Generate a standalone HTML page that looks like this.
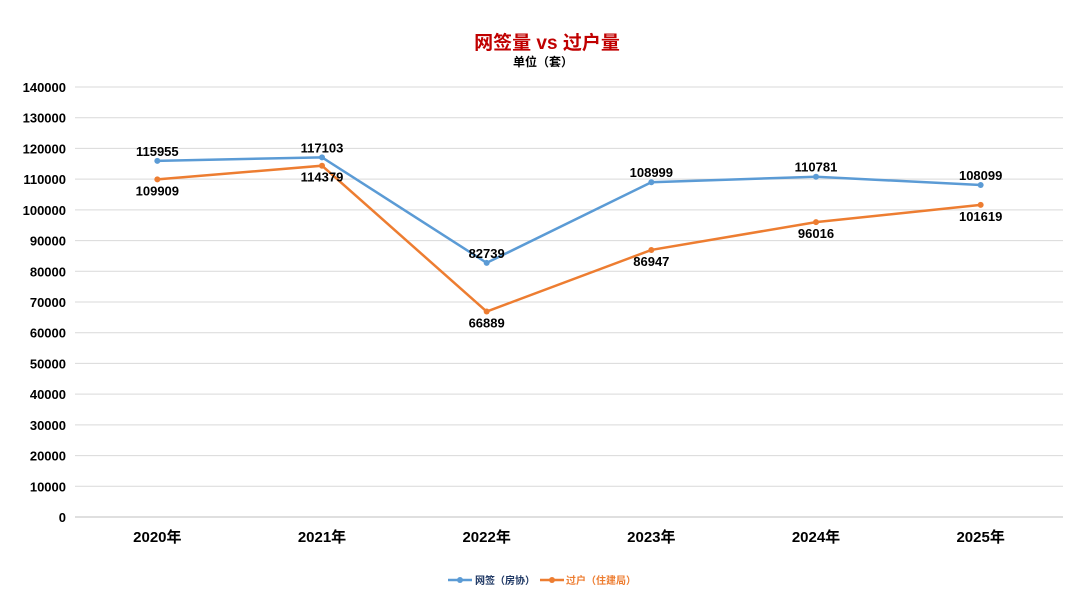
<!DOCTYPE html>
<html><head><meta charset="utf-8"><style>
body{margin:0;background:#fff;}
svg text{font-family:"Liberation Sans","Noto Sans CJK SC",sans-serif;}
</style></head><body>
<svg id="chart" width="1080" height="603">
<text x="547" y="49" text-anchor="middle" font-size="19" font-weight="bold" fill="#c00000">网签量 vs 过户量</text>
<text x="543" y="66" text-anchor="middle" font-size="12" font-weight="bold" fill="#000">单位（套）</text>
<g id="grid"></g><g id="series"></g>
<g>
<g>
<line x1="448" y1="580" x2="472" y2="580" stroke="#5b9bd5" stroke-width="2.5"/><circle cx="460" cy="580" r="3" fill="#5b9bd5"/>
<text x="475" y="584" font-size="10" font-weight="bold" fill="#1f3864">网签（房协）</text></g>
<g>
<line x1="540" y1="580" x2="564" y2="580" stroke="#ed7d31" stroke-width="2.5"/><circle cx="552" cy="580" r="3" fill="#ed7d31"/>
<text x="566" y="584" font-size="10" font-weight="bold" fill="#ed7d31">过户（住建局）</text></g>
</g>
</svg>
<script>
const categories=["2020年","2021年","2022年","2023年","2024年","2025年"];
const wangqian=[115955,117103,82739,108999,110781,108099];
const guohu=[109909,114379,66889,86947,96016,101619];
const yTicks=[0,10000,20000,30000,40000,50000,60000,70000,80000,90000,100000,110000,120000,130000,140000];
const NS="http://www.w3.org/2000/svg";
const L=75,R=1063,T=87,B=517,yMax=140000;
const x=i=>L+(R-L)/categories.length*(i+0.5);
const y=v=>B-(B-T)*v/yMax;
function mk(t,a,p){const e=document.createElementNS(NS,t);for(const k in a)e.setAttribute(k,a[k]);p.appendChild(e);return e;}
const g=document.getElementById('grid'),s=document.getElementById('series');
yTicks.forEach(v=>{
const ln=mk('line',{x1:L,x2:R,y1:y(v),y2:y(v),stroke:v===0?'#bfbfbf':'#d9d9d9','stroke-width':1},g);


const t=mk('text',{x:66,y:y(v)+5,'text-anchor':'end','font-size':13,'font-weight':'bold',fill:'#000'},g);t.textContent=v;


});
categories.forEach((c,i)=>{
const t=mk('text',{x:x(i),y:542,'text-anchor':'middle','font-size':15,'font-weight':'bold',fill:'#000'},g);t.textContent=c;


});
function series(d,col,name,dy){
const p=mk('polyline',{points:d.map((v,i)=>x(i)+','+y(v)).join(' '),fill:'none',stroke:col,'stroke-width':2.5},s);


d.forEach((v,i)=>{
const c=mk('circle',{cx:x(i),cy:y(v),r:3,fill:col},s);


const t=mk('text',{x:x(i),y:y(v)+dy,'text-anchor':'middle','font-size':13,'font-weight':'bold',fill:'#000'},s);t.textContent=v;


});}
series(wangqian,'#5b9bd5','wangqian',-5);
series(guohu,'#ed7d31','guohu',16);
</script>
</body></html>
